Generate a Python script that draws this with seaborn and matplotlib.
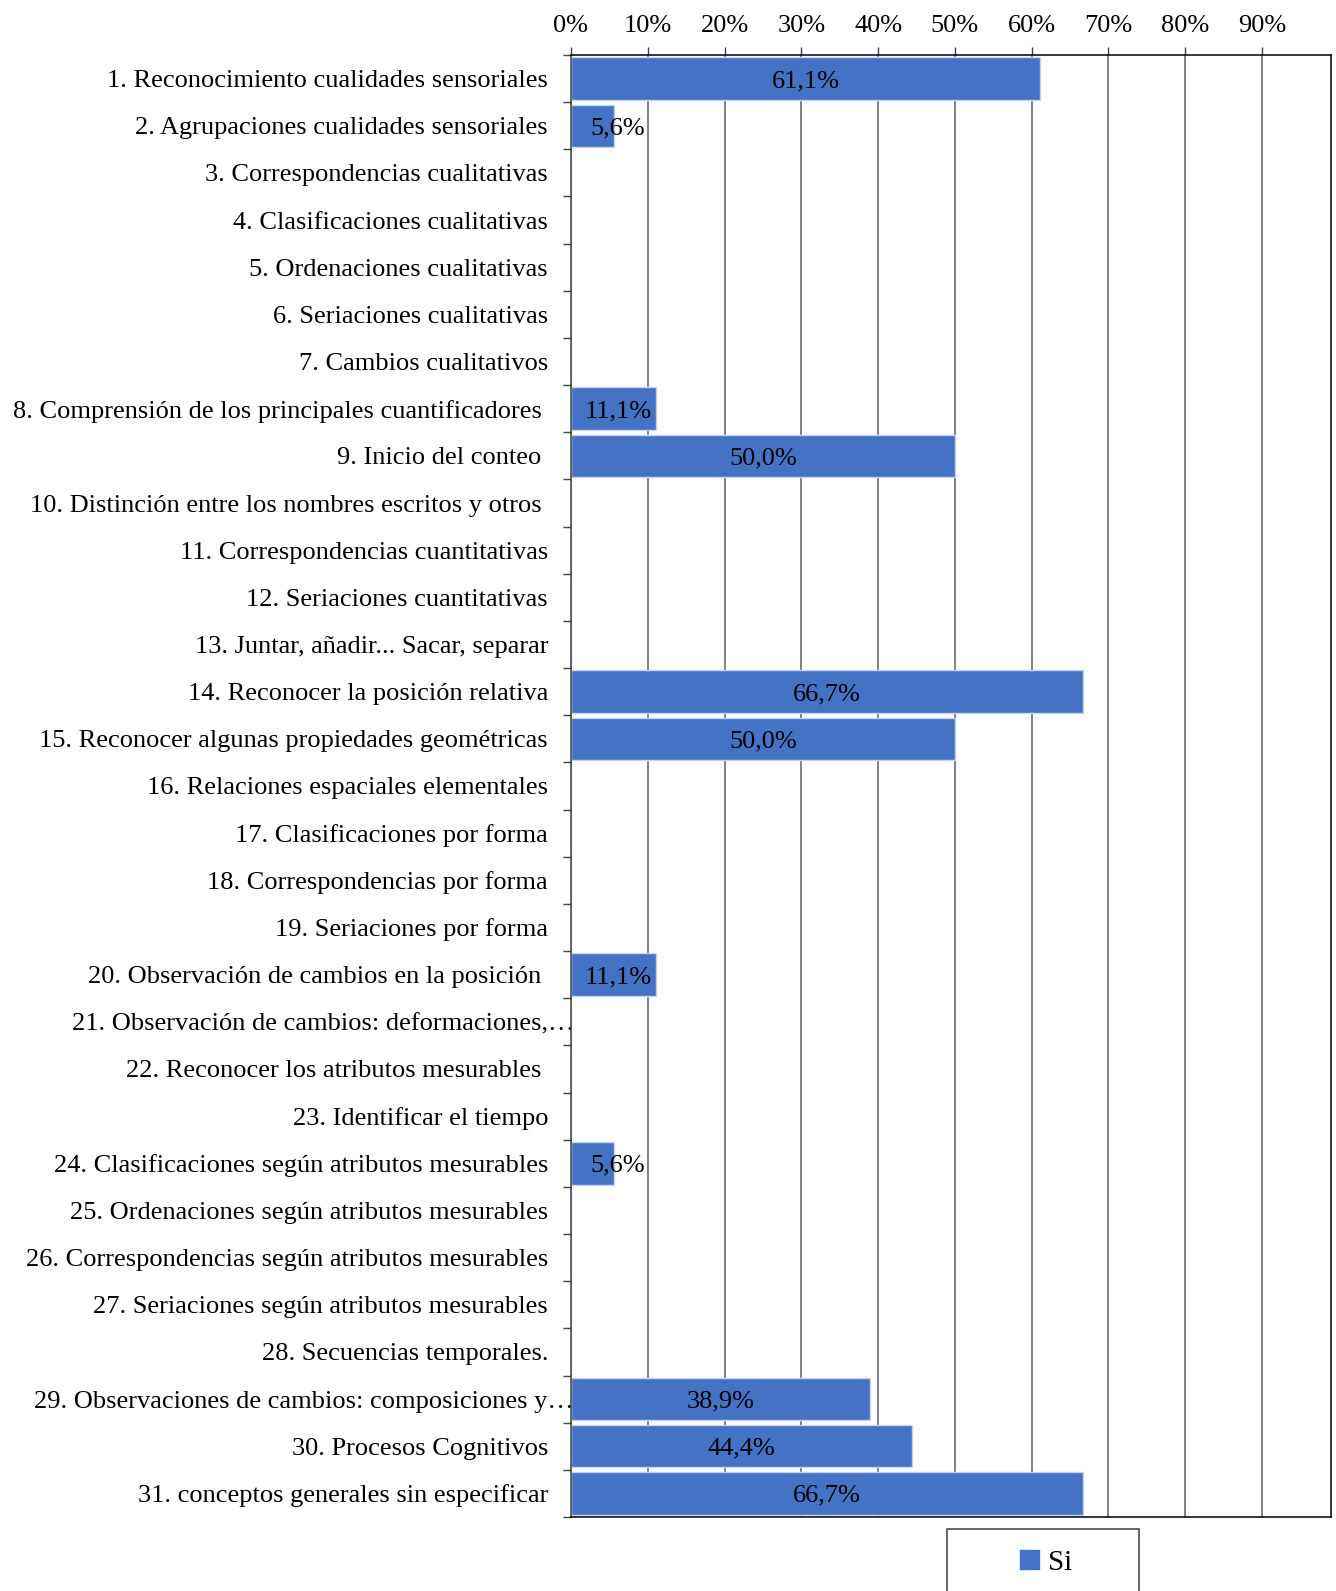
import pandas as pd
import matplotlib.pyplot as plt
import matplotlib.patches as mpatches
from matplotlib.transforms import ScaledTranslation
import seaborn as sns

categories = [
    '1. Reconocimiento cualidades sensoriales',
    '2. Agrupaciones cualidades sensoriales',
    '3. Correspondencias cualitativas',
    '4. Clasificaciones cualitativas',
    '5. Ordenaciones cualitativas',
    '6. Seriaciones cualitativas',
    '7. Cambios cualitativos',
    '8. Comprensión de los principales cuantificadores ',
    '9. Inicio del conteo ',
    '10. Distinción entre los nombres escritos y otros ',
    '11. Correspondencias cuantitativas',
    '12. Seriaciones cuantitativas',
    '13. Juntar, añadir... Sacar, separar',
    '14. Reconocer la posición relativa',
    '15. Reconocer algunas propiedades geométricas',
    '16. Relaciones espaciales elementales',
    '17. Clasificaciones por forma',
    '18. Correspondencias por forma',
    '19. Seriaciones por forma',
    '20. Observación de cambios en la posición ',
    '21. Observación de cambios: deformaciones,…',
    '22. Reconocer los atributos mesurables ',
    '23. Identificar el tiempo',
    '24. Clasificaciones según atributos mesurables',
    '25. Ordenaciones según atributos mesurables',
    '26. Correspondencias según atributos mesurables',
    '27. Seriaciones según atributos mesurables',
    '28. Secuencias temporales.',
    '29. Observaciones de cambios: composiciones y…',
    '30. Procesos Cognitivos',
    '31. conceptos generales sin especificar',
]
si_values = [0.611, 0.056, 0, 0, 0, 0, 0, 0.111, 0.500, 0, 0, 0, 0, 0.667, 0.500,
             0, 0, 0, 0, 0.111, 0, 0, 0, 0.056, 0, 0, 0, 0, 0.389, 0.444, 0.667]
x_ticks = [0, 0.1, 0.2, 0.3, 0.4, 0.5, 0.6, 0.7, 0.8, 0.9]
x_ticklabels = ['0%', '10%', '20%', '30%', '40%', '50%', '60%', '70%', '80%', '90%']

BLUE = '#4472C4'
FS = 19

plt.rcParams['font.family'] = ['Liberation Serif', 'DejaVu Serif']

df = pd.DataFrame({'categoria': categories, 'Si': si_values})

fig = plt.figure(figsize=(13.36, 15.91), dpi=100)
ax = fig.add_axes([571 / 1336, 1 - 1517 / 1591, 760 / 1336, 1462 / 1591])

sns.barplot(ax=ax, data=df, x='Si', y='categoria', orient='h', color=BLUE,
            saturation=1, width=0.9, edgecolor='#c5d3ec', linewidth=1, zorder=2)

ax.set_xlim(0, 0.99)
ax.set_ylim(len(categories) - 0.5, -0.5)
ax.set_xlabel('')
ax.set_ylabel('')

# top percentage axis
ax.xaxis.tick_top()
ax.set_xticks(x_ticks)
ax.set_xticklabels(x_ticklabels, fontsize=FS)
ax.tick_params(axis='x', length=6, width=1, color='#404040', pad=7)
ax.grid(axis='x', color='#5e5e5e', linewidth=1.1, zorder=0)
ax.set_axisbelow(True)

# category ticks between bars
ax.set_yticks(range(len(categories)))
ax.set_yticklabels(categories, fontsize=FS)
ax.tick_params(axis='y', which='major', length=0, pad=16.5)
ax.set_yticks([i - 0.5 for i in range(len(categories) + 1)], minor=True)
ax.tick_params(axis='y', which='minor', length=5.5, width=1, color='#404040')

# truncated labels run a bit into the plot
for lbl in ax.get_yticklabels():
    if lbl.get_text().endswith('…'):
        lbl.set_transform(lbl.get_transform() + ScaledTranslation(26 / 100, 0, fig.dpi_scale_trans))

for side in ['top', 'right', 'bottom']:
    ax.spines[side].set_color('black')
    ax.spines[side].set_linewidth(1.1)
ax.spines['left'].set_color('#404040')
ax.spines['left'].set_linewidth(1.1)

# value labels
for i, v in enumerate(si_values):
    if v > 0:
        xpos = max(v / 2, 0.061)
        ax.text(xpos, i, f'{v * 100:.1f}%'.replace('.', ','), ha='center', va='center_baseline',
                fontsize=FS, color='black', zorder=3)

# legend box running off the bottom
fig.patches.append(mpatches.Rectangle((947 / 1336, -0.02), 192 / 1336, 0.02 + (1591 - 1529) / 1591,
                                      transform=fig.transFigure, facecolor='white',
                                      edgecolor='#404040', linewidth=1.1, zorder=1))
handle = mpatches.Patch(color=BLUE, label='Si')
fig.legend(handles=[handle], loc='center', bbox_to_anchor=(1046 / 1336, 1 - 1563 / 1591),
           frameon=False, fontsize=FS + 2, handlelength=0.65, handleheight=0.65,
           handletextpad=0.3)

fig.savefig('out.png', dpi=100)
